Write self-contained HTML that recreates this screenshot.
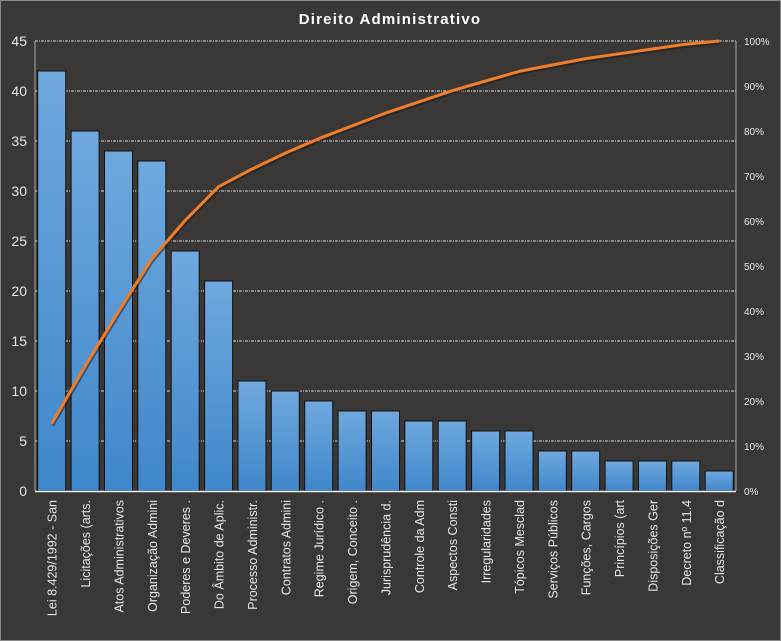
<!DOCTYPE html>
<html><head><meta charset="utf-8"><style>
html,body{margin:0;padding:0;background:#3a3836;}
svg{display:block;font-family:"Liberation Sans",sans-serif;}
</style></head><body>
<svg width="781" height="641" viewBox="0 0 781 641">
<defs>
<linearGradient id="g" x1="0" y1="0" x2="0" y2="1"><stop offset="0" stop-color="#6fa8de"/><stop offset="1" stop-color="#3f87cb"/></linearGradient>
</defs>
<rect x="0.5" y="0.5" width="780" height="640" fill="#3a3836" stroke="#8a8a8a"/>
<text x="390" y="24" text-anchor="middle" fill="#fff" font-size="15" font-weight="bold" letter-spacing="1.2">Direito  Administrativo</text>
<g stroke="#d8d8d8" stroke-dasharray="3,1,1,1" stroke-width="1">
<line x1="35" y1="41" x2="736" y2="41"/><line x1="35" y1="91" x2="736" y2="91"/><line x1="35" y1="141" x2="736" y2="141"/><line x1="35" y1="191" x2="736" y2="191"/><line x1="35" y1="241" x2="736" y2="241"/><line x1="35" y1="291" x2="736" y2="291"/><line x1="35" y1="341" x2="736" y2="341"/><line x1="35" y1="391" x2="736" y2="391"/><line x1="35" y1="441" x2="736" y2="441"/>
</g>
<line x1="35" y1="41" x2="35" y2="491" stroke="#aaa"/>
<line x1="736" y1="41" x2="736" y2="491" stroke="#aaa"/>
<g fill="#e6e6e6" font-size="14" text-anchor="end">
<text x="27" y="46">45</text><text x="27" y="96">40</text><text x="27" y="146">35</text><text x="27" y="196">30</text><text x="27" y="246">25</text><text x="27" y="296">20</text><text x="27" y="346">15</text><text x="27" y="396">10</text><text x="27" y="446">5</text><text x="27" y="496">0</text>
</g>
<g fill="#e6e6e6" font-size="10">
<text x="744" y="45">100%</text><text x="744" y="90">90%</text><text x="744" y="135">80%</text><text x="744" y="180">70%</text><text x="744" y="225">60%</text><text x="744" y="270">50%</text><text x="744" y="315">40%</text><text x="744" y="360">30%</text><text x="744" y="405">20%</text><text x="744" y="450">10%</text><text x="744" y="495">0%</text>
</g>
<g fill="url(#g)" stroke="#111" stroke-width="1">
<rect x="37.7" y="71" width="28" height="420"/>
<rect x="71.1" y="131" width="28" height="360"/>
<rect x="104.5" y="151" width="28" height="340"/>
<rect x="137.8" y="161" width="28" height="330"/>
<rect x="171.2" y="251" width="28" height="240"/>
<rect x="204.6" y="281" width="28" height="210"/>
<rect x="238" y="381" width="28" height="110"/>
<rect x="271.3" y="391" width="28" height="100"/>
<rect x="304.7" y="401" width="28" height="90"/>
<rect x="338.1" y="411" width="28" height="80"/>
<rect x="371.5" y="411" width="28" height="80"/>
<rect x="404.8" y="421" width="28" height="70"/>
<rect x="438.2" y="421" width="28" height="70"/>
<rect x="471.6" y="431" width="28" height="60"/>
<rect x="505" y="431" width="28" height="60"/>
<rect x="538.3" y="451" width="28" height="40"/>
<rect x="571.7" y="451" width="28" height="40"/>
<rect x="605.1" y="461" width="28" height="30"/>
<rect x="638.5" y="461" width="28" height="30"/>
<rect x="671.8" y="461" width="28" height="30"/>
<rect x="705.2" y="471" width="28" height="20"/>
</g>
<line x1="35" y1="491.5" x2="736" y2="491.5" stroke="#eee" stroke-width="1.5"/>
<polyline fill="none" stroke="#1a1a1a" stroke-opacity="0.5" stroke-width="3" transform="translate(1,2)" points="51.7,423.7 85.1,366.1 118.5,311.6 151.8,258.8 185.2,220.4 218.6,186.7 252,169.1 285.3,153.1 318.7,138.7 352.1,125.9 385.5,113.1 418.8,101.9 452.2,90.7 485.6,81 519,71.4 552.3,65 585.7,58.6 619.1,53.8 652.5,49 685.8,44.2 719.2,41"/>
<polyline fill="none" stroke="#f07d2a" stroke-width="3" stroke-linejoin="round" points="51.7,423.7 85.1,366.1 118.5,311.6 151.8,258.8 185.2,220.4 218.6,186.7 252,169.1 285.3,153.1 318.7,138.7 352.1,125.9 385.5,113.1 418.8,101.9 452.2,90.7 485.6,81 519,71.4 552.3,65 585.7,58.6 619.1,53.8 652.5,49 685.8,44.2 719.2,41"/>
<g fill="#e6e6e6" font-size="12.5" text-anchor="end">
<text transform="translate(56.7,500) rotate(-90)">Lei 8.429/1992 - San</text>
<text transform="translate(90.1,500) rotate(-90)">Licitações (arts.</text>
<text transform="translate(123.5,500) rotate(-90)">Atos Administrativos</text>
<text transform="translate(156.8,500) rotate(-90)">Organização Admini</text>
<text transform="translate(190.2,500) rotate(-90)">Poderes e Deveres .</text>
<text transform="translate(223.6,500) rotate(-90)">Do Âmbito de Aplic.</text>
<text transform="translate(257,500) rotate(-90)">Processo Administr.</text>
<text transform="translate(290.3,500) rotate(-90)">Contratos Admini</text>
<text transform="translate(323.7,500) rotate(-90)">Regime Jurídico .</text>
<text transform="translate(357.1,500) rotate(-90)">Origem, Conceito .</text>
<text transform="translate(390.5,500) rotate(-90)">Jurisprudência d.</text>
<text transform="translate(423.8,500) rotate(-90)">Controle da Adm</text>
<text transform="translate(457.2,500) rotate(-90)">Aspectos Consti</text>
<text transform="translate(490.6,500) rotate(-90)">Irregularidades</text>
<text transform="translate(524,500) rotate(-90)">Tópicos Mesclad</text>
<text transform="translate(557.3,500) rotate(-90)">Serviços Públicos</text>
<text transform="translate(590.7,500) rotate(-90)">Funções, Cargos</text>
<text transform="translate(624.1,500) rotate(-90)">Princípios (art</text>
<text transform="translate(657.5,500) rotate(-90)">Disposições Ger</text>
<text transform="translate(690.8,500) rotate(-90)">Decreto nº 11.4</text>
<text transform="translate(724.2,500) rotate(-90)">Classificação d</text>
</g>
</svg>
</body></html>
